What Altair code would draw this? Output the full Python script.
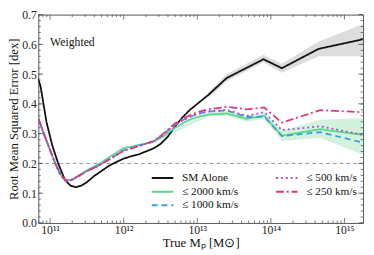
import altair as alt
import pandas as pd

# ---------------- data (log10 mass, RMSE) ----------------
black_logm = [10.77, 10.87, 10.95, 11.03, 11.11, 11.2, 11.28, 11.35, 11.42, 11.5, 11.6, 11.7, 11.8,
              11.9, 12.0, 12.1, 12.2, 12.3, 12.4, 12.5, 12.6, 12.7, 12.8, 12.9, 13.0, 13.15,
              13.4, 13.9, 14.15, 14.65, 15.25]
black_rmse = [0.53, 0.46, 0.34, 0.26, 0.20, 0.145, 0.125, 0.12, 0.125, 0.137, 0.158, 0.175, 0.192,
              0.205, 0.216, 0.224, 0.23, 0.24, 0.25, 0.265, 0.29, 0.325, 0.355, 0.38, 0.40, 0.43,
              0.487, 0.55, 0.52, 0.585, 0.617]

col_logm = [10.77, 10.85, 10.93, 11.0, 11.07, 11.14, 11.21, 11.3, 11.4, 11.5, 11.6, 11.7, 11.8,
            11.9, 12.0, 12.1, 12.2, 12.3, 12.4, 12.5, 12.6, 12.7, 12.8, 12.9, 13.0, 13.15,
            13.4, 13.67, 13.91, 14.15, 14.67, 15.25]
pink_rmse = [0.40, 0.345, 0.29, 0.245, 0.20, 0.163, 0.143, 0.146, 0.16, 0.175, 0.186, 0.198, 0.213,
             0.228, 0.243, 0.25, 0.258, 0.266, 0.275, 0.292, 0.313, 0.335, 0.35, 0.362, 0.372, 0.382,
             0.39, 0.382, 0.388, 0.337, 0.379, 0.372]
purple_rmse = [0.40, 0.345, 0.29, 0.245, 0.20, 0.162, 0.142, 0.145, 0.159, 0.174, 0.185, 0.198, 0.213,
               0.228, 0.244, 0.251, 0.259, 0.266, 0.274, 0.29, 0.31, 0.33, 0.345, 0.356, 0.366, 0.375,
               0.38, 0.36, 0.372, 0.312, 0.325, 0.296]
blue_rmse = [0.40, 0.345, 0.29, 0.245, 0.20, 0.162, 0.142, 0.145, 0.159, 0.174, 0.185, 0.198, 0.213,
             0.228, 0.244, 0.251, 0.259, 0.266, 0.274, 0.29, 0.31, 0.33, 0.345, 0.356, 0.366, 0.374,
             0.378, 0.356, 0.357, 0.292, 0.305, 0.27]
green_rmse = [0.40, 0.345, 0.29, 0.245, 0.20, 0.162, 0.142, 0.146, 0.161, 0.177, 0.19, 0.204, 0.22,
              0.236, 0.252, 0.256, 0.262, 0.267, 0.272, 0.285, 0.302, 0.32, 0.335, 0.347, 0.356, 0.364,
              0.368, 0.35, 0.36, 0.293, 0.315, 0.296]

gray_band_logm = [13.15, 13.4, 13.9, 14.15, 14.65, 15.25]
gray_band_lo = [0.42, 0.475, 0.54, 0.505, 0.56, 0.56]
gray_band_hi = [0.44, 0.50, 0.565, 0.535, 0.61, 0.668]

green_band_logm = [12.5, 13.15, 13.4, 13.67, 13.91, 14.15, 14.67, 15.25]
green_band_lo = [0.281, 0.357, 0.36, 0.34, 0.35, 0.275, 0.286, 0.229]
green_band_hi = [0.289, 0.371, 0.378, 0.36, 0.37, 0.31, 0.347, 0.353]

series_names = ["SM Alone", "≤ 2000 km/s", "≤ 1000 km/s", "≤ 500 km/s", "≤ 250 km/s"]
series_colors = ["#111111", "#5cd68a", "#3b9ddd", "#a855d0", "#e0357f"]
series_dash = [[1, 0], [1, 0], [6, 4], [2, 3], [8, 3, 2, 3]]

x_major = [1e11, 1e12, 1e13, 1e14, 1e15]
y_major = [0.0, 0.1, 0.2, 0.3, 0.4, 0.5, 0.6, 0.7]
y_minor = [round(0.02 * i, 2) for i in range(36)]
ref_level = [0.2]
label_text = ["Weighted"]

# ---------------- tables ----------------
rows = []
for name, lm, vals in [("SM Alone", black_logm, black_rmse),
                       ("≤ 2000 km/s", col_logm, green_rmse),
                       ("≤ 1000 km/s", col_logm, blue_rmse),
                       ("≤ 500 km/s", col_logm, purple_rmse),
                       ("≤ 250 km/s", col_logm, pink_rmse)]:
    for i, (a, b) in enumerate(zip(lm, vals)):
        rows.append({"series": name, "m": 10 ** a, "v": b, "i": i})
lines = pd.DataFrame(rows)

gband = pd.DataFrame({"m": [10 ** a for a in gray_band_logm], "v": gray_band_lo, "hi": gray_band_hi})
grband = pd.DataFrame({"m": [10 ** a for a in green_band_logm], "v": green_band_lo, "hi": green_band_hi})

x_minor = [k * 10 ** d for d in range(10, 16) for k in range(2, 10)]
x_minor = [v for v in x_minor if 10 ** 10.84 <= v <= 10 ** 15.253]

W, H = 332, 213
xdom = [10 ** 10.84, 10 ** 15.2533]
xs = alt.Scale(type="log", domain=xdom, nice=False)
ys = alt.Scale(domain=[0, 0.7], nice=False, zero=False)

FONT = "Liberation Serif"

label_expr = ("round(log(datum.value)/LN10)==11 ? '10¹¹' : round(log(datum.value)/LN10)==12 ? '10¹²' : "
              "round(log(datum.value)/LN10)==13 ? '10¹³' : round(log(datum.value)/LN10)==14 ? '10¹⁴' : '10¹⁵'")

xaxis = alt.Axis(values=x_major, labelExpr=label_expr, ticks=False, domain=False, grid=False,
                 title="True Mₚ [M⊙]", labelPadding=2, titlePadding=1, labelFlush=False)
yaxis = alt.Axis(values=y_major, format=".1f", ticks=False, domain=False, grid=False,
                 title="Root Mean Squared Error [dex]", labelPadding=2, titlePadding=1, labelFlush=False)

X = lambda f: alt.X(f, scale=xs, axis=xaxis)
Y = lambda f: alt.Y(f, scale=ys, axis=yaxis)

gray = alt.Chart(gband).mark_area(color="#d9d9d9", opacity=0.9).encode(x=X("m:Q"), y=Y("v:Q"), y2="hi:Q")
green = alt.Chart(grband).mark_area(color="#bfeccf", opacity=0.7).encode(x=X("m:Q"), y=Y("v:Q"), y2="hi:Q")

hline = alt.Chart(pd.DataFrame({"v": ref_level})).mark_rule(color="#999999", strokeDash=[4, 3], strokeWidth=1).encode(
    y=Y("v:Q"), x=alt.value(0), x2=alt.value(W))

legend = alt.Legend(orient="none", legendX=115, legendY=161, columns=2, columnPadding=37, rowPadding=2,
                    symbolType="stroke", symbolSize=484, symbolStrokeWidth=2, clipHeight=12,
                    labelFont=FONT, labelFontSize=11.5, labelOffset=8, labelColor="#111", title=None, padding=0)

line = alt.Chart(lines).mark_line(strokeWidth=1.8, clip=True).encode(
    x=X("m:Q"), y=Y("v:Q"),
    color=alt.Color("series:N", scale=alt.Scale(domain=series_names, range=series_colors), legend=legend),
    strokeDash=alt.StrokeDash("series:N", scale=alt.Scale(domain=series_names, range=series_dash), legend=legend),
    order="i:Q",
)

txt = alt.Chart(pd.DataFrame({"m": [1e11], "v": [0.608], "t": label_text})).mark_text(
    align="left", baseline="middle", font=FONT, fontSize=12, color="#111").encode(
    x=X("m:Q"), y=Y("v:Q"), text="t:N")

TC = "#555555"
def yticks(vals, length):
    d = pd.DataFrame({"v": vals})
    left = alt.Chart(d).mark_rule(color=TC, strokeWidth=0.8).encode(
        y=Y("v:Q"), x=alt.value(0), x2=alt.value(length))
    right = alt.Chart(d).mark_rule(color=TC, strokeWidth=0.8).encode(
        y=Y("v:Q"), x=alt.value(W - length), x2=alt.value(W))
    return [left, right]

def xticks(vals, length):
    d = pd.DataFrame({"m": vals})
    bot = alt.Chart(d).mark_rule(color=TC, strokeWidth=0.8).encode(
        x=X("m:Q"), y=alt.value(H), y2=alt.value(H - length))
    top = alt.Chart(d).mark_rule(color=TC, strokeWidth=0.8).encode(
        x=X("m:Q"), y=alt.value(0), y2=alt.value(length))
    return [bot, top]

tick_layers = yticks(y_major, 5) + yticks(y_minor, 2.5) + xticks(x_major, 5) + xticks(x_minor, 2.5)

chart = alt.layer(gray, green, hline, *tick_layers, line, txt).properties(
    width=W, height=H,
    padding={"left": 31, "top": 4, "right": 3, "bottom": 30},
    autosize=alt.AutoSizeParams(type="none"),
).configure_view(stroke="#555555", strokeWidth=1).configure_axis(
    labelFont=FONT, labelFontSize=12, labelColor="#222", titleFont=FONT, titleFontSize=13,
    titleFontWeight="normal", titleColor="#111"
)

chart.save("out.html", embed_options={"renderer": "svg", "actions": False})
